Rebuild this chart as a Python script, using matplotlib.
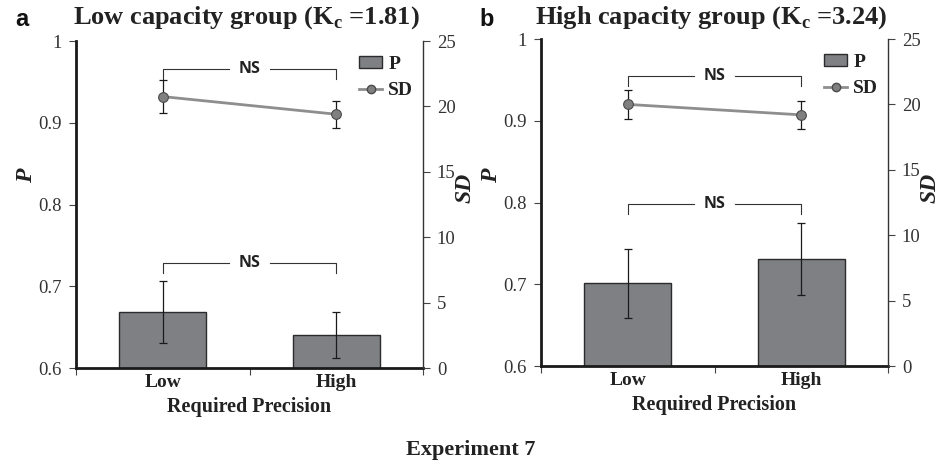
import matplotlib
matplotlib.use("Agg")
import matplotlib.pyplot as plt
from matplotlib.patches import Patch
from matplotlib.lines import Line2D

# --- DATA ---
categories = ['Low', 'High']
panel_letters = ['a', 'b']
panel_titles = ['Low capacity group (K$_\\mathregular{c}$ =1.81)',
                'High capacity group (K$_\\mathregular{c}$ =3.24)']

# proportion correct P (left axis), with error bars
p_low_group = [0.668, 0.640]
p_low_group_err = [0.038, 0.028]
p_high_group = [0.701, 0.731]
p_high_group_err = [0.042, 0.044]

# SD (right axis), with error bars
sd_low_group = [20.75, 19.4]
sd_low_group_err = [1.25, 1.05]
sd_high_group = [20.0, 19.2]
sd_high_group_err = [1.1, 1.05]

# heights of the "NS" brackets, in P units (bars bracket, SD bracket)
ns_low_group = [0.728, 0.966]
ns_high_group = [0.798, 0.955]

p_ticks = [0.6, 0.7, 0.8, 0.9, 1.0]
p_tick_labels = ['0.6', '0.7', '0.8', '0.9', '1']
sd_ticks = [0, 5, 10, 15, 20, 25]

# --- STYLE ---
serif = 'Liberation Serif'
plt.rcParams['font.family'] = serif
plt.rcParams['mathtext.fontset'] = 'custom'
plt.rcParams['mathtext.rm'] = 'Liberation Serif:bold'
bar_color = '#7f8084'
line_color = '#8e8e8e'

fig = plt.figure(figsize=(9.41, 4.65), dpi=100)

panels = [
    (p_low_group, p_low_group_err, sd_low_group, sd_low_group_err, ns_low_group, [76, 41, 423, 368]),
    (p_high_group, p_high_group_err, sd_high_group, sd_high_group_err, ns_high_group, [541, 39, 888, 366]),
]

W, H = 941, 465
x = range(len(categories))

for i, (p, perr, sd, sderr, ns, box) in enumerate(panels):
    l, t, r, b = box
    ax = fig.add_axes([l / W, 1 - b / H, (r - l) / W, (b - t) / H])
    ax2 = ax.twinx()

    ax.bar(x, p, width=0.5, color=bar_color, edgecolor='#2b2b2b', linewidth=1.0, zorder=2)
    ax.errorbar(x, p, yerr=perr, fmt='none', ecolor='#1a1a1a', elinewidth=0.9,
                capsize=3, capthick=0.9, zorder=3)

    ax2.errorbar(x, sd, yerr=sderr, fmt='none', ecolor='#1a1a1a', elinewidth=0.9,
                 capsize=3, capthick=0.9, zorder=3)
    ax2.plot(x, sd, color=line_color, linewidth=2, marker='o', markersize=7,
             markerfacecolor='#808080', markeredgecolor='#4a4a4a', markeredgewidth=0.8, zorder=4)

    ax.set_xlim(-0.5, 1.5)
    ax.set_ylim(0.6, 1.0)
    ax2.set_ylim(0, 25)

    ax.set_xticks([-0.5, 0.5, 1.5])
    ax.set_xticklabels([])
    for xi, c in zip(x, categories):
        ax.text(xi, -0.045, c, transform=ax.get_xaxis_transform(), ha='center', va='center',
                fontsize=14, fontweight='bold', color='#222222')
    ax.text(0.5, -0.12, 'Required Precision', transform=ax.transAxes, ha='center', va='center',
            fontsize=14.5, fontweight='bold', color='#222222')

    ax.set_yticks(p_ticks)
    ax.set_yticklabels(p_tick_labels)
    ax2.set_yticks(sd_ticks)
    ax.tick_params(axis='y', direction='out', length=5, width=0.8, labelsize=13.5,
                   colors='#444444', labelcolor='#333333', pad=5)
    ax.tick_params(axis='x', direction='out', length=5, width=0.8, colors='#444444')
    ax2.tick_params(axis='y', direction='out', length=5, width=0.8, labelsize=13.5,
                    colors='#444444', labelcolor='#333333', pad=5)

    for a in (ax, ax2):
        a.spines['top'].set_visible(False)
    ax.spines['left'].set_linewidth(2.0)
    ax.spines['bottom'].set_linewidth(2.0)
    ax.spines['left'].set_color('#1a1a1a')
    ax.spines['bottom'].set_color('#1a1a1a')
    ax2.spines['left'].set_visible(False)
    ax2.spines['bottom'].set_visible(False)
    ax2.spines['right'].set_linewidth(1.0)
    ax2.spines['right'].set_color('#333333')
    ax.spines['right'].set_visible(False)

    # NS brackets
    for h in ns:
        drop = 0.012
        ax.plot([0, 0, 0.38], [h - drop, h, h], color='#333333', linewidth=0.8, zorder=5)
        ax.plot([0.62, 1, 1], [h, h, h - drop], color='#333333', linewidth=0.8, zorder=5)
        ax.text(0.5, h, 'NS', ha='center', va='center', fontsize=11.5, fontweight='bold',
                family='Open Sans', color='#222222', zorder=6)

    handles = [Patch(facecolor=bar_color, edgecolor='#2b2b2b', linewidth=1.0),
               Line2D([], [], color=line_color, linewidth=2, marker='o', markersize=6,
                      markerfacecolor='#808080', markeredgecolor='#4a4a4a')]
    leg = ax2.legend(handles, ['P', 'SD'], loc='upper right', frameon=False,
                     prop={'family': serif, 'weight': 'bold', 'size': 14},
                     handlelength=1.2, handleheight=0.6, handletextpad=0.3, labelspacing=0.5,
                     borderaxespad=0.1, bbox_to_anchor=(1.0, 0.985))
    for txt in leg.get_texts():
        txt.set_color('#222222')

    # axis labels
    fig.text((l - 49) / W, 1 - 176 / H, 'P', rotation=90, ha='center', va='center',
             fontsize=17, fontweight='bold', style='italic', color='#222222')
    fig.text((r + 42) / W, 1 - 188 / H, 'SD', rotation=90, ha='center', va='center',
             fontsize=17, fontweight='bold', style='italic', color='#222222')

    # panel letter and title
    fig.text((l - 54) / W, 1 - 19 / H, panel_letters[i], ha='center', va='center',
             fontsize=17, fontweight='bold', family='Liberation Sans', color='#111111')
    fig.text((l + r) / 2 / W - 0.003, 1 - 18 / H, panel_titles[i], ha='center', va='center',
             fontsize=19, fontweight='bold', color='#222222')

fig.text(0.5, 1 - 450 / H, 'Experiment 7', ha='center', va='center',
         fontsize=16, fontweight='bold', color='#222222')

fig.savefig('out.png', dpi=100)
